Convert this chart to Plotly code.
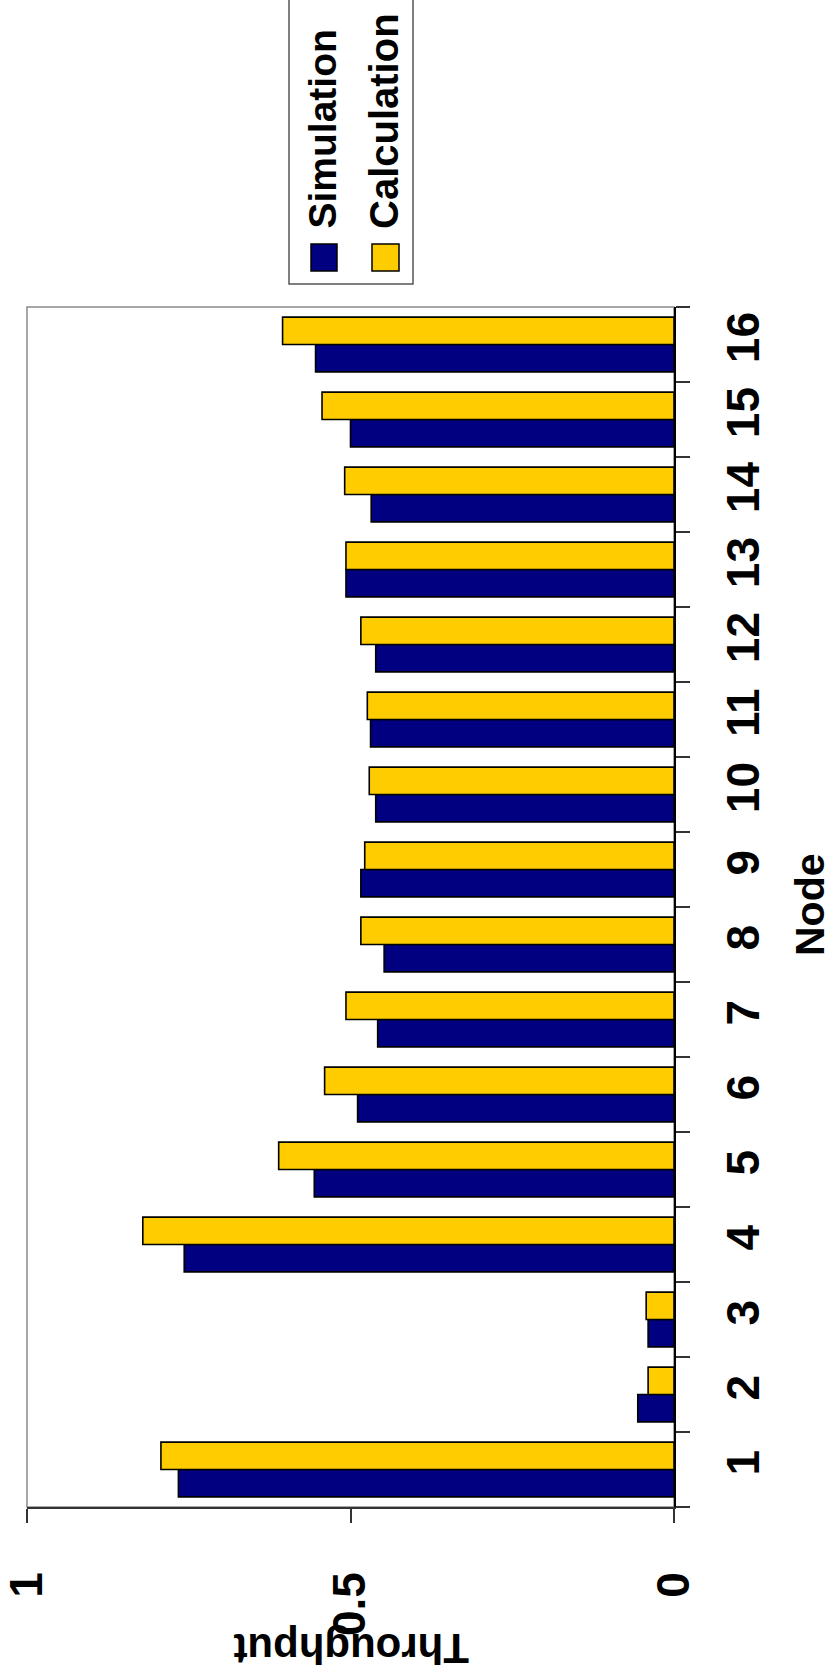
import plotly.graph_objects as go

# Per-node throughput, nodes 1..16
nodes = [str(i) for i in range(1, 17)]
simulation = [0.766, 0.056, 0.040, 0.757, 0.556, 0.489, 0.458, 0.448,
              0.484, 0.461, 0.469, 0.461, 0.507, 0.468, 0.500, 0.554]
calculation = [0.793, 0.040, 0.043, 0.821, 0.611, 0.540, 0.507, 0.484,
               0.478, 0.471, 0.474, 0.484, 0.507, 0.509, 0.544, 0.605]
x_ticks = [0, 0.5, 1]
x_tick_labels = ["0", "0.5", "1"]

W, H = 834, 1679
# plot box in pixels
L, R, T, B = 27, 674, 307, 1507

FONT = "Liberation Sans"


def px(x):
    return x / W


def py(y):
    return 1 - y / H


def bold(size):
    return dict(family=FONT, size=size, color="black", weight="bold")


fig = go.Figure()
fig.add_trace(go.Bar(
    y=nodes, x=simulation, orientation="h", name="Simulation",
    marker=dict(color="#000080", line=dict(color="black", width=1.6)),
))
fig.add_trace(go.Bar(
    y=nodes, x=calculation, orientation="h", name="Calculation",
    marker=dict(color="#FFCC00", line=dict(color="black", width=1.6)),
))

shapes = [
    # grey frame around the plot area
    dict(type="rect", xref="paper", yref="paper",
         x0=px(L), x1=px(R), y0=py(B), y1=py(T),
         line=dict(color="#8a8a8a", width=1.5), layer="below"),
    # legend box
    dict(type="rect", xref="paper", yref="paper",
         x0=px(289), x1=px(413), y0=py(284), y1=py(-20),
         line=dict(color="#555555", width=1.5), fillcolor="white"),
    dict(type="rect", xref="paper", yref="paper",
         x0=px(311), x1=px(337), y0=py(271), y1=py(244),
         line=dict(color="black", width=1.5), fillcolor="#000080"),
    dict(type="rect", xref="paper", yref="paper",
         x0=px(372), x1=px(399), y0=py(271), y1=py(244),
         line=dict(color="black", width=1.5), fillcolor="#FFCC00"),
]

annotations = [
    dict(text="Simulation", x=px(322), y=py(231), xref="paper", yref="paper",
         xanchor="center", yanchor="bottom", textangle=-90, showarrow=False,
         font=bold(39)),
    dict(text="Calculation", x=px(384), y=py(231), xref="paper", yref="paper",
         xanchor="center", yanchor="bottom", textangle=-90, showarrow=False,
         font=bold(40)),
    dict(text="Node", x=px(810), y=py(905), xref="paper", yref="paper",
         xanchor="center", yanchor="middle", textangle=-90, showarrow=False,
         font=bold(41)),
    dict(text="Throughput", x=px(351), y=py(1649), xref="paper", yref="paper",
         xanchor="center", yanchor="middle", textangle=180, showarrow=False,
         font=bold(42)),
]

fig.update_layout(
    width=W, height=H,
    margin=dict(l=0, r=0, t=0, b=0),
    paper_bgcolor="white", plot_bgcolor="white",
    barmode="group", bargap=0.27, bargroupgap=0,
    showlegend=False,
    shapes=shapes, annotations=annotations,
    font=dict(family=FONT, color="black"),
    xaxis=dict(
        domain=[px(L), px(R)], range=[1, 0], automargin=False,
        tickvals=x_ticks, ticktext=x_tick_labels, tickangle=-90,
        ticks="outside", ticklen=14, tickwidth=1.5, tickcolor="#333333",
        showline=True, linecolor="#333333", linewidth=1.5,
        showgrid=False, zeroline=False, ticklabelstandoff=31,
        ticklabeloverflow="allow",
        tickfont=bold(46),
    ),
    yaxis=dict(
        domain=[py(B), py(T)], type="category", side="right",
        categoryorder="array", categoryarray=nodes, automargin=False,
        tickson="boundaries", ticks="outside", ticklen=14, tickwidth=1.5,
        tickcolor="#333333", tickangle=-90, ticklabelstandoff=28,
        ticklabeloverflow="allow",
        showline=True, linecolor="black", linewidth=2,
        showgrid=False, zeroline=False,
        tickfont=bold(46),
    ),
)

fig.write_html("out.html")
